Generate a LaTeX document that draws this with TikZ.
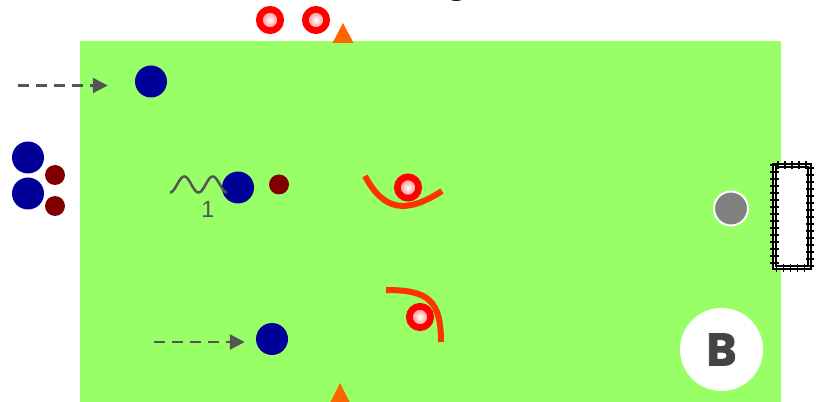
\documentclass[tikz,border=0pt]{standalone}
\usepackage{fontspec}
\setmainfont{Liberation Sans}
\newfontfamily\logofont{Poppins}[BoldFeatures={FakeBold=1.6}]
\usetikzlibrary{positioning, arrows.meta, decorations.pathreplacing}
\definecolor{pitch}{HTML}{99FF66}
\definecolor{attblue}{HTML}{000099}
\definecolor{balldark}{HTML}{800000}
\definecolor{defred}{HTML}{FF0000}
\definecolor{press}{HTML}{FF3300}
\definecolor{conecol}{HTML}{FF6600}
\definecolor{runcol}{HTML}{555555}
\definecolor{ballgray}{HTML}{808080}
\definecolor{logotext}{HTML}{444444}
\tikzset{
  att/.style={circle, fill=attblue, minimum size=0.96cm, inner sep=0pt},
  ball/.style={circle, fill=balldark, minimum size=0.6cm, inner sep=0pt},
  defp/.style={circle, draw=defred, line width=0.2cm, minimum size=0.64cm, inner sep=0pt,
               inner color=white, outer color=defred!55},
  gball/.style={circle, fill=ballgray, draw=white, line width=0.06cm, minimum size=1.02cm, inner sep=0pt},
  goal/.style={draw=black, fill=white, line width=0.05cm, minimum width=1.14cm, minimum height=3.15cm, inner sep=0pt},
  goalline/.style={draw=black, line width=0.05cm},
  goalticks/.style={draw=black, line width=0.05cm, decorate,
                    decoration={ticks, segment length=0.21cm, amplitude=0.13cm}},
  runarr/.style={-{Triangle[length=0.45cm, width=0.45cm]}, draw=runcol, line width=0.075cm,
                 dash pattern=on 0.33cm off 0.21cm},
  pressline/.style={draw=press, line width=0.18cm},
  dribble/.style={draw=runcol, line width=0.075cm},
  cone/.style={fill=conecol},
  numlbl/.style={font=\fontsize{20}{20}\selectfont, text=runcol, inner sep=0pt},
  logo/.style={circle, fill=white, minimum size=2.49cm, inner sep=0pt, text=logotext,
               font=\logofont\bfseries\fontsize{39}{39}\selectfont},
}
\begin{document}
\begin{tikzpicture}[x=0.03cm, y=-0.03cm]
    \useasboundingbox (0,0) rectangle (822,402);
    % title (cut off at the top)
    \node[font=\fontsize{36}{36}\selectfont\bfseries, anchor=base, inner sep=0pt] (ttl) at (457,-7.8) {g};
    % pitch
    \fill[pitch] (80,41) rectangle (781,402);
    \fill[cone] (343,23) -- (353.5,43) -- (332.5,43) -- cycle;
    \fill[cone] (340,383) -- (350.5,404) -- (329.5,404) -- cycle;
    % goal
    \node[goal] (goal) at (792,216.5) {};
    \draw[goalline] ([shift={(4,4)}]goal.north west) rectangle ([shift={(-4,-4)}]goal.south east);
    \draw[goalticks] ([shift={(2,2)}]goal.north west) rectangle ([shift={(-2,-2)}]goal.south east);
    \node[gball] (gb) at (731,208.5) {};
    % attackers
    \node[att] (a1) at (151,81.5) {};
    \node[att] (a2) at (238,187.5) {};
    \node[att] (a3) at (272,339) {};
    \node[att] (a4) at (28,157.5) {};
    \node[att] (a5) at (28,193.5) {};
    \node[ball] (b1) at (279,184.5) {};
    \node[ball] (b2) at (55,175) {};
    \node[ball] (b3) at (55,206) {};
    % defenders
    \node[defp] (d1) at (270,20) {};
    \node[defp] (d2) at (316,20) {};
    \node[defp] (d3) at (408,187.5) {};
    \node[defp] (d4) at (420,317) {};
    \draw[pressline] (365,176) .. controls (383,210) and (405,215) .. (442,191);
    \draw[pressline] (386,290) .. controls (428,290) and (441,300) .. (441,342);
    % runs
    \coordinate (r1) at (18,85.5);
    \coordinate (r2) at (154,342);
    \draw[runarr, shorten >=0.81cm] (r1) -- (r1 -| a1.west);
    \draw[runarr, shorten >=0.33cm] (r2) -- (r2 -| a3.west);
    \draw[dribble] plot[domain=0:1, samples=80, smooth] ({170+57*\x}, {184.5+8*cos(720*\x)});
    \node[numlbl] (n1) at (208,209.5) {1};
    % logo
    \node[logo] (logo) at (721.5,349.5) {B};
\end{tikzpicture}
\end{document}
